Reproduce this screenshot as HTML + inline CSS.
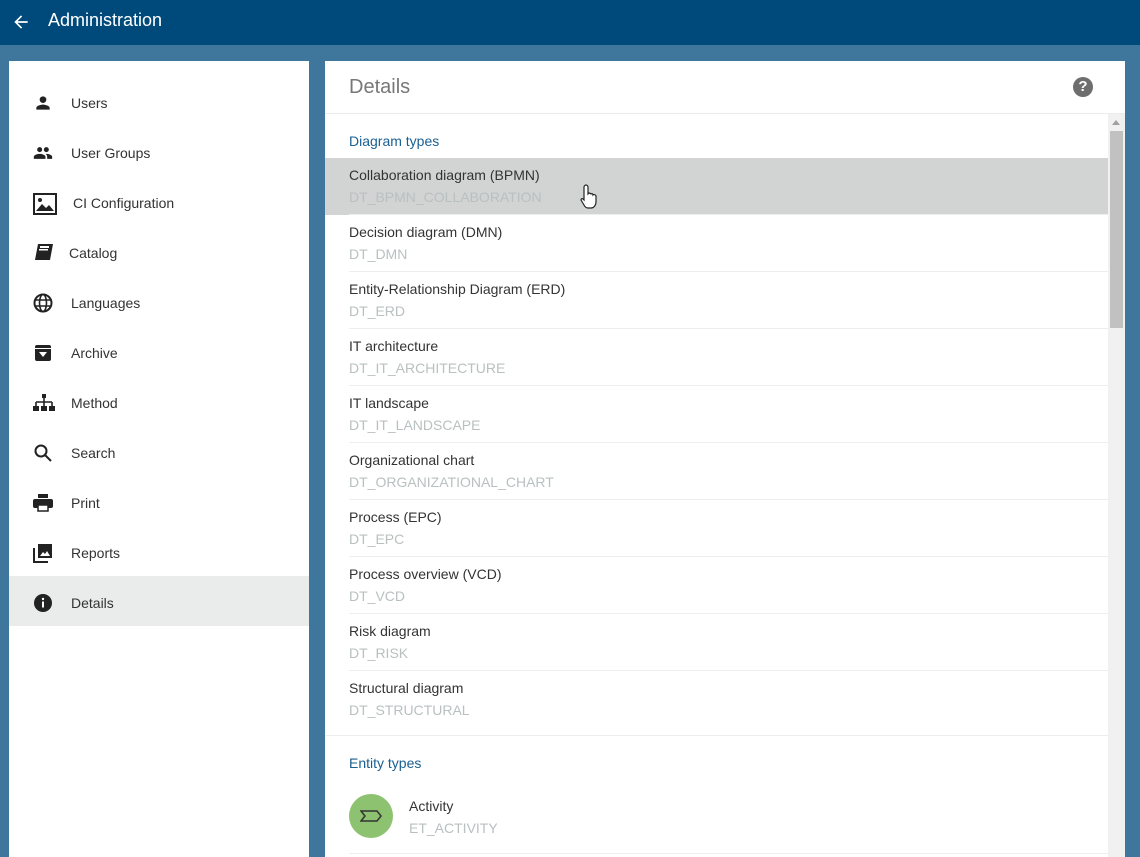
<!DOCTYPE html>
<html><head><meta charset="utf-8"><style>
*{margin:0;padding:0;box-sizing:border-box}
body{width:1140px;height:857px;overflow:hidden;background:#3f779c;font-family:"Liberation Sans",Arial,sans-serif;position:relative}
.hdr{position:absolute;left:0;top:0;width:1140px;height:45px;background:#004a7b;color:#fff}
.hdr .t{position:absolute;left:48px;top:10px;font-size:18px}
.left{position:absolute;left:9px;top:61px;width:300px;height:796px;background:#fff}
.mi{position:absolute;left:0;width:300px;height:50px}
.mi span{position:absolute;left:62px;top:17px;font-size:14px;color:#333}
.mi svg{position:absolute;left:24px;top:15px}
.sel{background:#eaecec}
.right{position:absolute;left:325px;top:61px;width:800px;height:796px;background:#fff}
.dt{position:absolute;left:24px;top:15px;font-size:20px;color:#777}
.q{position:absolute;left:748px;top:16px;width:20px;height:20px;border-radius:50%;background:#6e6e6e;color:#fff;font-weight:bold;font-size:15px;text-align:center;line-height:20px}
.hl{position:absolute;left:0;top:52px;width:800px;height:1px;background:#ececec}
.sec{position:absolute;left:24px;font-size:14px;color:#1a5f90}
.row{position:absolute;left:0;width:783px;height:57px}
.row .a{position:absolute;left:24px;top:9px;font-size:14px;color:#333}
.row .b{position:absolute;left:24px;top:31px;font-size:14px;color:#b9c0c0}
.row .ln{position:absolute;left:24px;right:0;bottom:0;height:1px;background:#eeeeee}
.hov{background:#d2d3d3}
.sb{position:absolute;left:783px;top:53px;width:17px;height:743px;background:#f1f1f1}
.th{position:absolute;left:2px;top:17px;width:13px;height:197px;background:#c1c1c1}
</style></head><body>
<div class="hdr">
<svg style="position:absolute;left:11px;top:12px" width="20" height="20" viewBox="0 0 24 24"><path d="M20 11H7.8l5.6-5.6L12 4l-8 8 8 8 1.4-1.4L7.8 13H20z" fill="#fff"/></svg>
<div class="t">Administration</div></div>
<div class="left">
<div class="mi" style="top:17px"><svg width="20" height="20" viewBox="0 0 24 24"><path d="M12 12a4 4 0 1 0 0-8 4 4 0 0 0 0 8zm0 2c-2.7 0-8 1.3-8 4v2h16v-2c0-2.7-5.3-4-8-4z" fill="#222"/></svg><span>Users</span></div>
<div class="mi" style="top:67px"><svg width="20" height="20" viewBox="0 0 24 24"><path d="M16 11a3 3 0 1 0 0-6 3 3 0 0 0 0 6zm-8 0a3 3 0 1 0 0-6 3 3 0 0 0 0 6zm0 2c-2.3 0-7 1.2-7 3.5V19h14v-2.5C15 14.2 10.3 13 8 13zm8 0c-.3 0-.6 0-1 .1 1.2.8 2 2 2 3.4V19h6v-2.5c0-2.3-4.7-3.5-7-3.5z" fill="#222"/></svg><span>User Groups</span></div>
<div class="mi" style="top:117px"><svg width="24" height="22" viewBox="0 0 24 22"><rect x="1" y="1" width="22" height="20" fill="none" stroke="#222" stroke-width="2"/><circle cx="7" cy="7" r="2" fill="#222"/><path d="M3 18l6-7 4 4 3-3 5 6z" fill="#222"/></svg><span style="left:64px">CI Configuration</span></div>
<div class="mi" style="top:167px"><svg width="22" height="20" viewBox="0 0 22 20"><path d="M5 1h15l-3 16H2z" fill="#222"/><rect x="7" y="3" width="9" height="2" fill="#fff"/><rect x="6" y="6" width="9" height="1.5" fill="#fff"/></svg><span style="left:60px">Catalog</span></div>
<div class="mi" style="top:217px"><svg width="20" height="20" viewBox="0 0 20 20"><circle cx="10" cy="10" r="8.5" fill="none" stroke="#222" stroke-width="2"/><ellipse cx="10" cy="10" rx="3.5" ry="8.5" fill="none" stroke="#222" stroke-width="1.6"/><path d="M2 7h16M2 13h16" stroke="#222" stroke-width="1.6"/></svg><span>Languages</span></div>
<div class="mi" style="top:267px"><svg width="20" height="20" viewBox="0 0 20 20"><rect x="2" y="2" width="16" height="16" rx="2" fill="#222"/><path d="M6 9h8l-4 5z" fill="#fff"/><rect x="2" y="5" width="16" height="1" fill="#fff"/></svg><span>Archive</span></div>
<div class="mi" style="top:317px"><svg width="22" height="20" viewBox="0 0 22 20"><rect x="9" y="1" width="4" height="4" fill="#222"/><path d="M11 5v4M3 9h16M3 9v4M11 9v4M19 9v4" stroke="#222" stroke-width="1.6" fill="none"/><rect x="0" y="13" width="6" height="5" fill="#222"/><rect x="8" y="13" width="6" height="5" fill="#222"/><rect x="16" y="13" width="6" height="5" fill="#222"/></svg><span>Method</span></div>
<div class="mi" style="top:367px"><svg width="20" height="20" viewBox="0 0 20 20"><circle cx="8" cy="8" r="5.5" fill="none" stroke="#222" stroke-width="2"/><path d="M12 12l6 6" stroke="#222" stroke-width="2"/></svg><span>Search</span></div>
<div class="mi" style="top:417px"><svg width="20" height="20" viewBox="0 0 20 20"><rect x="5" y="1" width="10" height="4" fill="#222"/><rect x="0" y="6" width="20" height="9" rx="2" fill="#222"/><rect x="5" y="12" width="10" height="6" fill="#fff" stroke="#222" stroke-width="1.5"/></svg><span>Print</span></div>
<div class="mi" style="top:467px"><svg width="20" height="20" viewBox="0 0 20 20"><path d="M1 5v14h14" stroke="#222" stroke-width="2" fill="none"/><rect x="5" y="1" width="14" height="14" fill="#222"/><path d="M7 13l3-4 2 2 2-3 3 5z" fill="#fff"/></svg><span>Reports</span></div>
<div class="mi sel" style="top:515px"><svg width="20" height="20" viewBox="0 0 20 20" style="top:17px"><circle cx="10" cy="10" r="9" fill="#222"/><rect x="9" y="8.5" width="2" height="6" fill="#fff"/><circle cx="10" cy="6" r="1.2" fill="#fff"/></svg><span style="top:19px">Details</span></div>
</div>
<div class="right">
<div class="dt">Details</div><div class="q">?</div><div class="hl"></div>
<div class="sec" style="top:72px">Diagram types</div>
<div class="row hov" style="top:97px"><div class="a">Collaboration diagram (BPMN)</div><div class="b">DT_BPMN_COLLABORATION</div><div class="ln"></div></div>
<div class="row" style="top:154px"><div class="a">Decision diagram (DMN)</div><div class="b">DT_DMN</div><div class="ln"></div></div>
<div class="row" style="top:211px"><div class="a">Entity-Relationship Diagram (ERD)</div><div class="b">DT_ERD</div><div class="ln"></div></div>
<div class="row" style="top:268px"><div class="a">IT architecture</div><div class="b">DT_IT_ARCHITECTURE</div><div class="ln"></div></div>
<div class="row" style="top:325px"><div class="a">IT landscape</div><div class="b">DT_IT_LANDSCAPE</div><div class="ln"></div></div>
<div class="row" style="top:382px"><div class="a">Organizational chart</div><div class="b">DT_ORGANIZATIONAL_CHART</div><div class="ln"></div></div>
<div class="row" style="top:439px"><div class="a">Process (EPC)</div><div class="b">DT_EPC</div><div class="ln"></div></div>
<div class="row" style="top:496px"><div class="a">Process overview (VCD)</div><div class="b">DT_VCD</div><div class="ln"></div></div>
<div class="row" style="top:553px"><div class="a">Risk diagram</div><div class="b">DT_RISK</div><div class="ln"></div></div>
<div class="row" style="top:610px"><div class="a">Structural diagram</div><div class="b">DT_STRUCTURAL</div></div>
<div style="position:absolute;left:0;top:674px;width:783px;height:1px;background:#eeeeee"></div>
<div class="sec" style="top:694px">Entity types</div>
<div style="position:absolute;left:24px;top:733px;width:44px;height:44px;border-radius:50%;background:#8dc270"></div>
<svg style="position:absolute;left:35px;top:749px" width="22" height="12" viewBox="0 0 22 12"><path d="M1 1h16l4 5-4 5H1l4-5z" fill="none" stroke="#333" stroke-width="1.5"/></svg>
<div class="row" style="top:735px;height:57px"><div class="a" style="left:84px;top:2px">Activity</div><div class="b" style="left:84px;top:24px">ET_ACTIVITY</div></div>
<div style="position:absolute;left:24px;top:792px;width:759px;height:1px;background:#eeeeee"></div>
<div class="sb"><div style="position:absolute;left:4px;top:6px;border:4px solid transparent;border-bottom:5px solid #a0a0a0;border-top:0"></div><div class="th"></div></div>
</div>
<svg style="position:absolute;left:580px;top:183px" width="18" height="26" viewBox="0 0 18 26"><path d="M6 2c1 0 2 1 2 2v7l1-1c1 0 2 1 2 1 1-1 2 0 2 1 1-1 3 0 3 1v6c0 3-2 6-5 6H8c-2 0-3-1-4-3l-3-5c0-1 1-2 2-1l1 1V4c0-1 1-2 2-2z" fill="#fff" stroke="#222" stroke-width="1.2"/></svg>
</body></html>
